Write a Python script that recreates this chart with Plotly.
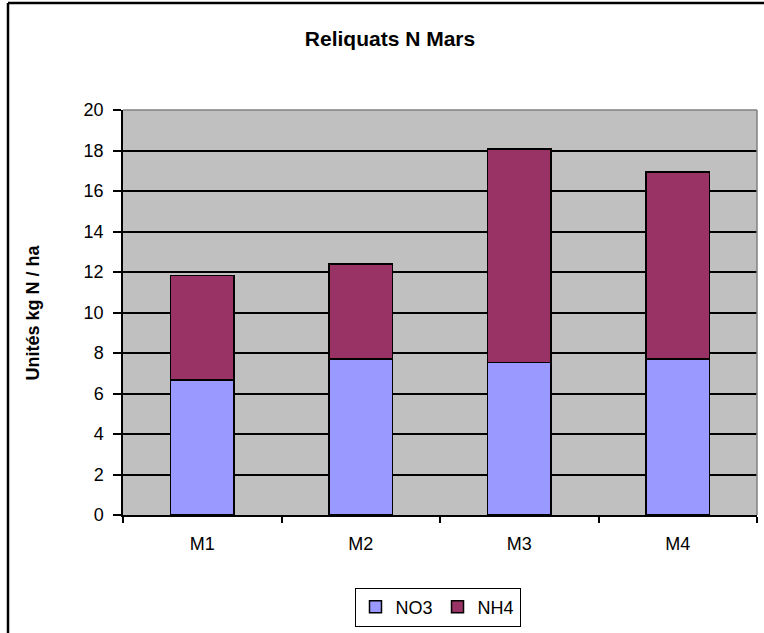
import plotly.graph_objects as go

categories = ["M1", "M2", "M3", "M4"]
no3_values = [6.67, 7.70, 7.52, 7.70]
nh4_values = [5.15, 4.70, 10.55, 9.25]
y_ticks = [0, 2, 4, 6, 8, 10, 12, 14, 16, 18, 20]

FONT = "Liberation Sans, Arial, sans-serif"

fig = go.Figure()
fig.add_trace(go.Bar(x=categories, y=no3_values, name="NO3",
                     marker=dict(color="#9999FF", line=dict(color="black", width=1.5))))
fig.add_trace(go.Bar(x=categories, y=nh4_values, name="NH4",
                     marker=dict(color="#993366", line=dict(color="black", width=1.5))))

W, H = 764, 633
PL, PR, PT, PB = 123, 757, 110, 515  # plot area pixel bounds


def fx(p):
    return p / W


def fy(p):
    return 1 - p / H


fig.update_layout(
    width=W, height=H,
    barmode="stack", bargap=0.6,
    paper_bgcolor="white", plot_bgcolor="#C0C0C0",
    margin=dict(l=0, r=0, t=0, b=0, pad=0, autoexpand=False),
    font=dict(family=FONT, size=18, color="black"),
    title=dict(text="<b>Reliquats N Mars</b>", xref="container", x=390 / W, xanchor="center",
               yref="container", y=fy(39), yanchor="middle",
               font=dict(family=FONT, size=21, color="black")),
    showlegend=True,
    legend=dict(orientation="h", x=fx(437.5), y=fy(607), xanchor="center", yanchor="middle",
                traceorder="normal", bgcolor="white", bordercolor="black", borderwidth=1,
                font=dict(family=FONT, size=18, color="black"), itemwidth=30),
    xaxis=dict(domain=[fx(PL), fx(PR)], automargin=False,
               showgrid=False, showline=True, linecolor="black", linewidth=1.5,
               ticks="outside", tickson="boundaries", ticklen=6, tickcolor="black", tickwidth=1.5,
               ticklabelstandoff=12, tickfont=dict(size=18)),
    yaxis=dict(domain=[fy(PB), fy(PT)], automargin=False,
               range=[0, 20], tickvals=y_ticks, showgrid=True, gridcolor="black", gridwidth=1.5,
               showline=True, linecolor="black", linewidth=1.5, zeroline=False,
               ticks="outside", ticklen=8, tickcolor="black", tickwidth=1.5,
               ticklabelstandoff=6, tickfont=dict(size=18)),
    annotations=[dict(text="<b>Unités kg N / ha</b>", xref="paper", yref="paper",
                      x=fx(32), y=fy((PT + PB) / 2), xanchor="center", yanchor="middle",
                      textangle=-90, showarrow=False,
                      font=dict(family=FONT, size=18, color="black"))],
    shapes=[
        dict(type="line", xref="paper", yref="paper", x0=fx(PL), x1=fx(PR), y0=fy(PT), y1=fy(PT),
             line=dict(color="#808080", width=1.5)),
        dict(type="line", xref="paper", yref="paper", x0=fx(PR), x1=fx(PR), y0=fy(PB), y1=fy(PT),
             line=dict(color="#808080", width=1.5)),
        dict(type="line", xref="paper", yref="paper", x0=fx(8), x1=fx(8),
             y0=-0.02, y1=fy(3), line=dict(color="black", width=2.5)),
        dict(type="line", xref="paper", yref="paper", x0=fx(8), x1=1.02,
             y0=fy(3), y1=fy(3), line=dict(color="black", width=2.5)),
    ],
)

fig.write_html("out.html", config={"displayModeBar": False},
               post_script=("document.documentElement.style.overflow='hidden';"
                            "document.documentElement.style.margin='0';"
                            "document.body.style.margin='0';"
                            "document.body.style.overflow='hidden';"))
